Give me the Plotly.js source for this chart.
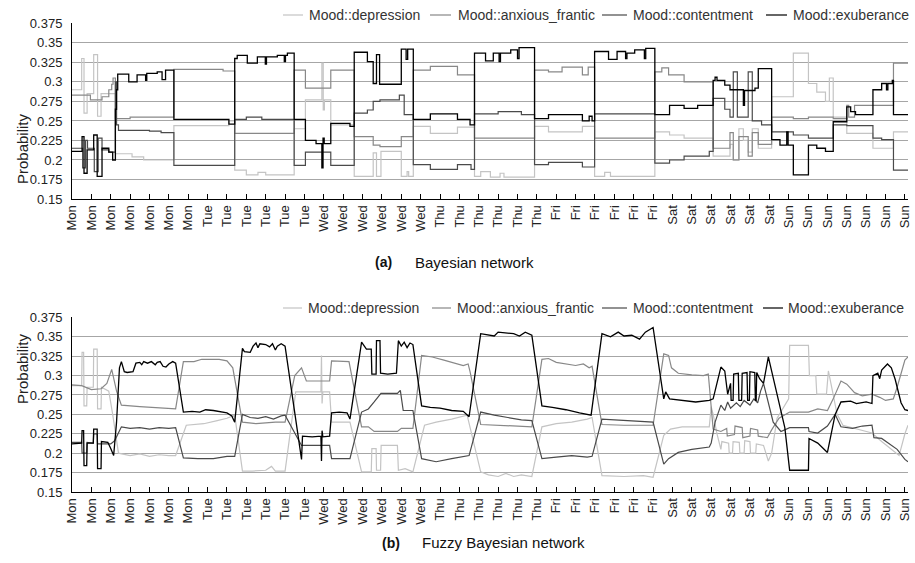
<!DOCTYPE html>
<html>
<head>
<meta charset="utf-8">
<script src="https://cdn.plot.ly/plotly-3.0.1.min.js"></script>
<style>html,body{margin:0;padding:0;background:#fff;}#chart{width:915px;height:563px;}</style>
</head>
<body>
<div id="chart"></div>
<script>
// ---------- categories / ticks ----------
const dayLabels = ['Mon','Mon','Mon','Mon','Mon','Mon','Mon','Tue','Tue','Tue','Tue','Tue','Tue',
  'Wed','Wed','Wed','Wed','Wed','Wed','Thu','Thu','Thu','Thu','Thu','Thu',
  'Fri','Fri','Fri','Fri','Fri','Fri','Sat','Sat','Sat','Sat','Sat','Sat',
  'Sun','Sun','Sun','Sun','Sun','Sun','Sun'];
const yTickVals = [0.15,0.175,0.2,0.225,0.25,0.275,0.3,0.325,0.35,0.375];
const yTickText = ['0.15','0.175','0.2','0.225','0.25','0.275','0.3','0.325','0.35','0.375'];
const seriesNames = ['Mood::depression','Mood::anxious_frantic','Mood::contentment','Mood::exuberance'];

// ---------- (a) Bayesian network: [time position, probability] ----------
const bnDepression = [[0,0.29],[0.5,0.33],[0.62,0.26],[0.78,0.285],[1.12,0.335],[1.32,0.256],[1.5,0.285],[2.24,0.208],[3.1,0.204],[3.7,0.2],[5.26,0.244],[8.1,0.25],[8.4,0.187],[9.0,0.181],[9.6,0.184],[10.0,0.181],[11.47,0.24],[12.05,0.277],[12.9,0.324],[12.97,0.264],[13.03,0.277],[13.36,0.245],[14.57,0.179],[15.55,0.209],[15.72,0.179],[15.95,0.211],[17.0,0.179],[17.3,0.185],[17.38,0.179],[17.62,0.243],[18.5,0.234],[19.9,0.242],[20.78,0.179],[21.1,0.185],[21.6,0.178],[22.1,0.183],[22.3,0.178],[23.88,0.243],[24.6,0.236],[26.35,0.243],[26.98,0.179],[27.5,0.184],[27.8,0.179],[30.09,0.236],[30.85,0.232],[31.6,0.228],[33.1,0.205],[33.97,0.22],[34.14,0.2],[34.43,0.24],[34.66,0.225],[34.91,0.21],[35.12,0.24],[35.43,0.215],[36.12,0.281],[37.24,0.337],[38.02,0.298],[38.45,0.287],[38.9,0.275],[39.1,0.305],[39.3,0.255],[40.0,0.234],[41.35,0.215],[42.41,0.236],[43.16,0.236]];
const bnAnxious = [[0,0.283],[0.95,0.277],[1.55,0.281],[1.9,0.29],[2.05,0.297],[2.12,0.305],[2.24,0.253],[3.0,0.255],[5.26,0.316],[7.8,0.314],[8.4,0.234],[11.47,0.315],[12.05,0.292],[13.36,0.315],[14.57,0.23],[15.55,0.219],[15.9,0.217],[17.0,0.23],[17.62,0.315],[18.5,0.32],[19.9,0.309],[20.78,0.228],[23.88,0.315],[24.6,0.313],[25.3,0.319],[26.35,0.309],[26.65,0.319],[26.98,0.228],[30.09,0.313],[30.45,0.318],[30.8,0.309],[31.6,0.3],[33.1,0.215],[33.97,0.235],[34.14,0.2],[34.43,0.23],[34.91,0.205],[35.12,0.235],[35.43,0.22],[36.12,0.255],[37.24,0.253],[38.02,0.255],[39.3,0.253],[40.0,0.27],[40.1,0.255],[40.4,0.27],[42.41,0.324],[43.16,0.324]];
const bnContentment = [[0,0.215],[0.55,0.19],[0.7,0.225],[0.8,0.215],[1.15,0.185],[1.35,0.228],[1.55,0.213],[1.9,0.21],[2.24,0.3],[2.3,0.245],[2.4,0.238],[4.0,0.237],[4.6,0.235],[5.26,0.193],[8.4,0.252],[9.0,0.255],[9.8,0.252],[11.47,0.193],[12.05,0.21],[13.36,0.193],[14.57,0.26],[15.25,0.264],[15.55,0.275],[15.9,0.277],[16.9,0.283],[17.15,0.258],[17.62,0.194],[18.5,0.188],[19.9,0.194],[20.6,0.188],[20.78,0.259],[22.0,0.262],[23.2,0.258],[23.88,0.194],[24.6,0.197],[26.35,0.191],[26.98,0.259],[30.09,0.196],[30.85,0.2],[31.6,0.205],[32.9,0.211],[33.1,0.279],[33.7,0.265],[33.97,0.255],[34.14,0.313],[34.35,0.255],[34.91,0.313],[35.12,0.25],[35.6,0.245],[36.12,0.236],[37.24,0.232],[38.02,0.228],[39.3,0.245],[40.0,0.244],[41.35,0.228],[41.8,0.226],[42.41,0.187],[43.16,0.187]];
const bnExuberance = [[0,0.211],[0.52,0.23],[0.62,0.183],[0.78,0.213],[1.12,0.232],[1.3,0.179],[1.55,0.215],[1.9,0.21],[2.1,0.2],[2.24,0.265],[2.3,0.29],[2.36,0.31],[2.93,0.3],[3.36,0.309],[3.8,0.302],[3.86,0.311],[4.4,0.313],[4.65,0.303],[4.83,0.315],[5.26,0.252],[8.1,0.246],[8.4,0.33],[8.53,0.334],[9.05,0.324],[9.57,0.332],[9.98,0.323],[10.04,0.332],[10.6,0.334],[10.96,0.326],[11.02,0.334],[11.12,0.337],[11.47,0.252],[12.05,0.225],[12.6,0.221],[12.9,0.19],[12.96,0.228],[13.02,0.221],[13.36,0.247],[14.35,0.243],[14.57,0.338],[15.25,0.326],[15.55,0.298],[15.72,0.335],[15.88,0.297],[17.0,0.342],[17.25,0.329],[17.33,0.342],[17.62,0.252],[18.5,0.259],[19.9,0.252],[20.55,0.245],[20.78,0.337],[21.35,0.327],[21.75,0.337],[22.05,0.326],[22.12,0.337],[22.65,0.341],[23.0,0.33],[23.08,0.344],[23.88,0.253],[24.6,0.258],[26.35,0.25],[26.7,0.256],[26.85,0.25],[26.98,0.339],[27.7,0.329],[28.14,0.339],[28.58,0.33],[28.65,0.337],[29.05,0.341],[29.55,0.33],[29.62,0.343],[30.09,0.258],[30.85,0.27],[31.6,0.266],[32.3,0.27],[33.1,0.302],[33.2,0.306],[33.3,0.302],[33.7,0.296],[33.97,0.29],[34.66,0.27],[34.72,0.289],[35.26,0.292],[35.43,0.317],[36.12,0.226],[36.55,0.219],[36.9,0.236],[36.97,0.219],[37.24,0.181],[38.02,0.219],[38.45,0.215],[38.9,0.211],[39.3,0.249],[40.0,0.268],[40.2,0.262],[40.45,0.258],[41.35,0.29],[41.8,0.298],[42.05,0.29],[42.12,0.298],[42.35,0.302],[42.41,0.258],[43.16,0.258]];

// ---------- (b) Fuzzy Bayesian network ----------
const fbDepression = [[0,0.287],[0.5,0.287],[0.52,0.33],[0.6,0.33],[0.62,0.261],[0.76,0.261],[0.78,0.285],[1.1,0.285],[1.12,0.334],[1.3,0.334],[1.32,0.257],[1.5,0.257],[1.52,0.285],[1.9,0.28],[2.1,0.25],[2.4,0.2],[3.0,0.197],[3.5,0.199],[4.0,0.196],[4.5,0.198],[5.0,0.197],[5.35,0.197],[5.9,0.236],[6.8,0.238],[7.5,0.242],[8.0,0.245],[8.4,0.249],[8.8,0.177],[9.3,0.177],[10.0,0.178],[10.3,0.183],[10.5,0.177],[11.0,0.177],[11.55,0.279],[12.85,0.279],[12.88,0.326],[12.91,0.264],[12.95,0.279],[13.3,0.279],[13.4,0.24],[14.35,0.24],[14.95,0.176],[15.45,0.176],[15.48,0.206],[15.7,0.206],[15.72,0.178],[15.93,0.178],[15.96,0.21],[16.8,0.21],[16.85,0.178],[17.2,0.18],[17.6,0.176],[18.2,0.236],[18.8,0.24],[19.6,0.244],[20.4,0.249],[21.1,0.176],[21.5,0.172],[22.0,0.17],[22.4,0.174],[22.8,0.17],[23.2,0.172],[23.74,0.17],[24.26,0.234],[25.0,0.238],[25.8,0.24],[26.6,0.244],[26.85,0.246],[27.36,0.171],[28.5,0.17],[29.5,0.171],[30.0,0.169],[30.55,0.223],[30.9,0.231],[31.5,0.234],[32.9,0.234],[33.0,0.26],[33.1,0.25],[33.3,0.225],[33.5,0.205],[33.55,0.215],[33.9,0.213],[33.93,0.2],[34.1,0.2],[34.13,0.215],[34.45,0.214],[34.48,0.2],[34.7,0.2],[34.73,0.216],[35.0,0.215],[35.03,0.2],[35.3,0.2],[35.33,0.212],[35.7,0.21],[35.95,0.19],[36.12,0.2],[36.4,0.245],[37.0,0.27],[37.05,0.339],[38.02,0.339],[38.07,0.3],[38.4,0.3],[38.45,0.276],[38.95,0.276],[39.05,0.306],[39.5,0.25],[39.8,0.236],[40.3,0.233],[40.8,0.23],[41.3,0.226],[41.8,0.215],[42.3,0.205],[42.7,0.197],[43.0,0.225],[43.16,0.236]];
const fbAnxious = [[0,0.288],[0.5,0.287],[1.0,0.282],[1.5,0.283],[1.8,0.29],[2.05,0.308],[2.3,0.28],[2.55,0.262],[3.5,0.26],[4.5,0.258],[5.35,0.257],[5.75,0.318],[6.3,0.318],[6.7,0.321],[7.6,0.321],[8.0,0.319],[8.3,0.31],[8.8,0.24],[9.5,0.238],[10.5,0.24],[11.0,0.24],[11.5,0.3],[11.85,0.31],[12.1,0.293],[13.3,0.293],[13.4,0.319],[14.3,0.318],[14.95,0.234],[15.3,0.234],[15.6,0.228],[16.8,0.228],[17.0,0.232],[17.6,0.232],[18.05,0.326],[18.6,0.324],[19.2,0.32],[19.7,0.317],[20.2,0.313],[20.45,0.315],[20.55,0.305],[21.1,0.237],[22.5,0.235],[23.74,0.234],[24.26,0.321],[24.6,0.322],[25.0,0.317],[25.5,0.315],[26.0,0.313],[26.4,0.315],[26.7,0.31],[26.85,0.312],[27.36,0.237],[28.5,0.236],[30.0,0.236],[30.55,0.328],[30.8,0.326],[30.95,0.31],[31.3,0.303],[32.0,0.301],[32.6,0.3],[32.85,0.302],[32.95,0.274],[33.1,0.231],[33.5,0.228],[33.8,0.232],[33.83,0.222],[34.2,0.224],[34.23,0.235],[34.6,0.233],[34.63,0.22],[35.0,0.222],[35.03,0.232],[35.4,0.23],[35.43,0.222],[35.9,0.22],[36.12,0.23],[36.5,0.245],[37.05,0.253],[38.02,0.253],[38.5,0.257],[39.0,0.255],[39.3,0.27],[39.7,0.293],[40.0,0.289],[40.4,0.278],[40.8,0.274],[41.3,0.276],[41.7,0.272],[42.0,0.268],[42.4,0.27],[42.6,0.285],[43.0,0.32],[43.16,0.324]];
const fbContentment = [[0,0.214],[0.5,0.214],[0.52,0.2],[0.76,0.2],[0.78,0.214],[1.1,0.213],[1.12,0.225],[1.3,0.225],[1.32,0.212],[2.0,0.212],[2.2,0.216],[2.55,0.234],[3.0,0.232],[3.5,0.233],[4.0,0.231],[4.5,0.233],[5.0,0.232],[5.35,0.233],[5.75,0.194],[6.5,0.193],[7.3,0.193],[8.0,0.196],[8.4,0.196],[8.8,0.25],[9.2,0.246],[9.6,0.245],[10.0,0.247],[10.4,0.244],[10.8,0.248],[11.0,0.249],[11.85,0.21],[13.3,0.21],[13.4,0.193],[14.35,0.193],[14.95,0.253],[15.3,0.257],[15.6,0.266],[15.95,0.277],[16.8,0.277],[16.95,0.281],[17.1,0.255],[17.6,0.255],[18.05,0.193],[18.8,0.189],[19.6,0.193],[20.5,0.197],[21.1,0.253],[21.8,0.249],[22.5,0.246],[23.2,0.243],[23.74,0.242],[24.26,0.193],[25.0,0.195],[25.8,0.197],[26.6,0.195],[26.85,0.196],[27.36,0.244],[28.5,0.242],[29.5,0.241],[30.0,0.24],[30.55,0.186],[30.8,0.193],[31.3,0.201],[32.0,0.205],[32.9,0.208],[33.0,0.213],[33.2,0.24],[33.5,0.262],[33.7,0.255],[33.85,0.266],[34.0,0.258],[34.3,0.265],[34.5,0.26],[34.7,0.268],[35.0,0.262],[35.2,0.27],[35.4,0.265],[35.55,0.28],[35.7,0.29],[35.9,0.27],[36.2,0.24],[36.6,0.228],[37.05,0.233],[38.02,0.233],[38.05,0.228],[38.5,0.226],[39.0,0.235],[39.4,0.25],[39.7,0.234],[40.3,0.232],[40.8,0.235],[41.3,0.236],[41.4,0.22],[41.8,0.219],[42.2,0.212],[42.6,0.205],[43.0,0.192],[43.16,0.189]];
const fbExuberance = [[0,0.212],[0.5,0.213],[0.52,0.229],[0.6,0.229],[0.62,0.184],[0.76,0.184],[0.78,0.213],[1.1,0.213],[1.12,0.231],[1.3,0.231],[1.32,0.18],[1.5,0.18],[1.52,0.215],[1.85,0.214],[2.0,0.206],[2.15,0.197],[2.3,0.24],[2.45,0.31],[2.55,0.318],[2.7,0.305],[2.85,0.304],[3.15,0.305],[3.3,0.316],[3.5,0.317],[3.6,0.314],[3.7,0.318],[3.9,0.316],[4.1,0.318],[4.3,0.314],[4.4,0.317],[4.55,0.318],[4.7,0.312],[4.85,0.311],[5.0,0.315],[5.2,0.318],[5.35,0.316],[5.75,0.253],[6.2,0.254],[6.6,0.253],[6.9,0.256],[7.3,0.255],[7.7,0.253],[8.0,0.252],[8.25,0.248],[8.4,0.24],[8.8,0.335],[8.9,0.331],[9.2,0.33],[9.35,0.338],[9.5,0.342],[9.6,0.336],[9.7,0.341],[10.0,0.34],[10.2,0.337],[10.35,0.341],[10.5,0.333],[10.6,0.338],[10.8,0.341],[11.0,0.338],[11.85,0.192],[11.9,0.222],[12.4,0.221],[12.85,0.222],[12.88,0.19],[12.91,0.229],[12.95,0.221],[13.3,0.222],[13.4,0.252],[13.8,0.253],[14.2,0.252],[14.35,0.244],[14.95,0.343],[15.2,0.334],[15.45,0.334],[15.48,0.302],[15.7,0.302],[15.72,0.345],[15.9,0.345],[15.93,0.303],[16.3,0.302],[16.75,0.303],[16.85,0.345],[17.0,0.338],[17.15,0.343],[17.3,0.336],[17.45,0.342],[17.6,0.34],[18.05,0.261],[18.5,0.259],[19.0,0.258],[19.6,0.255],[20.2,0.254],[20.5,0.247],[21.1,0.354],[21.5,0.352],[21.8,0.351],[22.0,0.356],[22.4,0.355],[22.8,0.354],[23.1,0.351],[23.4,0.356],[23.74,0.352],[24.26,0.261],[24.8,0.259],[25.5,0.256],[26.2,0.252],[26.8,0.249],[27.36,0.354],[27.8,0.35],[28.2,0.356],[28.5,0.351],[28.9,0.352],[29.3,0.347],[29.6,0.356],[30.0,0.362],[30.55,0.27],[30.65,0.279],[30.85,0.27],[31.5,0.268],[32.2,0.266],[32.9,0.268],[33.1,0.27],[33.5,0.311],[33.7,0.306],[33.85,0.276],[34.0,0.29],[34.03,0.268],[34.13,0.268],[34.16,0.302],[34.4,0.303],[34.43,0.268],[34.57,0.268],[34.6,0.303],[34.85,0.304],[34.88,0.268],[34.97,0.268],[35.0,0.305],[35.25,0.304],[35.28,0.268],[35.32,0.268],[35.35,0.304],[35.5,0.296],[35.7,0.29],[35.95,0.324],[36.8,0.233],[37.05,0.178],[38.02,0.178],[38.05,0.219],[38.5,0.213],[39.0,0.201],[39.4,0.25],[39.7,0.266],[40.2,0.267],[40.5,0.264],[41.0,0.266],[41.3,0.264],[41.35,0.3],[41.6,0.303],[41.7,0.296],[41.8,0.307],[42.1,0.315],[42.3,0.31],[42.5,0.295],[42.8,0.265],[43.0,0.256],[43.16,0.255]];

// ---------- styling ----------
const lineColors = ['#c4c4c4','#888888','#4a4a4a','#000000'];
const lineWidths = [1.2,1.2,1.2,1.3];
const FONT = 'Liberation Sans, Arial, Helvetica, sans-serif';

const bnSeries = [bnDepression, bnAnxious, bnContentment, bnExuberance];
const fbSeries = [fbDepression, fbAnxious, fbContentment, fbExuberance];

const traces = [];
bnSeries.forEach((s,i)=>traces.push({
  x: s.map(p=>p[0]), y: s.map(p=>p[1]), type:'scatter', mode:'lines',
  name: seriesNames[i], xaxis:'x', yaxis:'y', showlegend:false,
  line:{color:lineColors[i], width:lineWidths[i], shape:'hv'}
}));
fbSeries.forEach((s,i)=>traces.push({
  x: s.map(p=>p[0]), y: s.map(p=>p[1]), type:'scatter', mode:'lines',
  name: seriesNames[i], xaxis:'x2', yaxis:'y2', showlegend:false,
  line:{color:lineColors[i], width:lineWidths[i], shape:'linear'}
}));

const tickIdx = dayLabels.map((d,i)=>i);
function xAxis(anchor){
  return {domain:[0,1], anchor:anchor, range:[0,43.16], tickmode:'array', tickvals:tickIdx, ticktext:dayLabels,
    tickangle:-90, ticks:'inside', ticklen:5, tickcolor:'#000', tickwidth:1,
    showline:true, linecolor:'#000', linewidth:1, showgrid:false, zeroline:false,
    tickfont:{family:FONT, size:13, color:'#222'}, fixedrange:true};
}
function yAxis(domain, anchor){
  return {domain:domain, anchor:anchor, range:[0.15,0.3755], tickmode:'array', tickvals:yTickVals, ticktext:yTickText,
    showgrid:true, gridcolor:'#a6a6a6', gridwidth:1, showline:true, linecolor:'#000', linewidth:1,
    ticks:'outside', ticklen:6, tickcolor:'rgba(0,0,0,0)', zeroline:false,
    tickfont:{family:FONT, size:13, color:'#222'}, fixedrange:true};
}

// pixel helpers (plot area: x 72..908, y 23..492 in a 915x563 page)
const PL=72, PW=836, PT=23, PH=469;
const px = v => (v-PL)/PW;
const py = v => (PT+PH-v)/PH;

const annotations = [
  {text:'Probability', x:px(12), y:py(111), xref:'paper', yref:'paper', textangle:-90, showarrow:false, font:{family:FONT,size:15,color:'#222'}},
  {text:'Probability', x:px(12), y:py(406), xref:'paper', yref:'paper', textangle:-90, showarrow:false, font:{family:FONT,size:15,color:'#222'}},
  {text:'<b>(a)</b>', x:px(383), y:py(262), xref:'paper', yref:'paper', showarrow:false, font:{family:FONT,size:14,color:'#111'}},
  {text:'Bayesian network', x:px(413), y:py(262), xref:'paper', yref:'paper', xanchor:'left', showarrow:false, font:{family:FONT,size:15,color:'#111'}},
  {text:'<b>(b)</b>', x:px(391), y:py(553), xref:'paper', yref:'paper', showarrow:false, font:{family:FONT,size:14,color:'#111'}},
  {text:'Fuzzy Bayesian network', x:px(420), y:py(553), xref:'paper', yref:'paper', xanchor:'left', showarrow:false, font:{family:FONT,size:15,color:'#111'}}
];
const shapes = [];
// hand-placed legends (one per panel)
const legendRows = [
  {y:15, items:[[283,303,307],[430,451,456],[602,627,631],[766,787,791]]},
  {y:308, items:[[283,302,306],[432,451,455],[602,627,631],[763,783,786]]}
];
legendRows.forEach(row=>{
  row.items.forEach((it,i)=>{
    shapes.push({type:'line', xref:'paper', yref:'paper', x0:px(it[0]), x1:px(it[1]), y0:py(row.y), y1:py(row.y),
      line:{color:lineColors[i], width:1.2}});
    annotations.push({text:seriesNames[i], x:px(it[2]), y:py(row.y), xref:'paper', yref:'paper', xanchor:'left', yanchor:'middle',
      showarrow:false, font:{family:FONT,size:14,color:'#333'}});
  });
});

const layout = {
  width:915, height:563,
  margin:{l:PL, r:915-PL-PW, t:PT, b:563-PT-PH, pad:0},
  paper_bgcolor:'#fff', plot_bgcolor:'#fff',
  showlegend:false,
  font:{family:FONT, color:'#222'},
  xaxis:xAxis('y'), yaxis:yAxis([py(199),1],'x'),
  xaxis2:xAxis('y2'), yaxis2:yAxis([0,py(317)],'x2'),
  annotations:annotations, shapes:shapes
};
Plotly.newPlot('chart', traces, layout, {staticPlot:true, displayModeBar:false});
</script>
</body>
</html>
